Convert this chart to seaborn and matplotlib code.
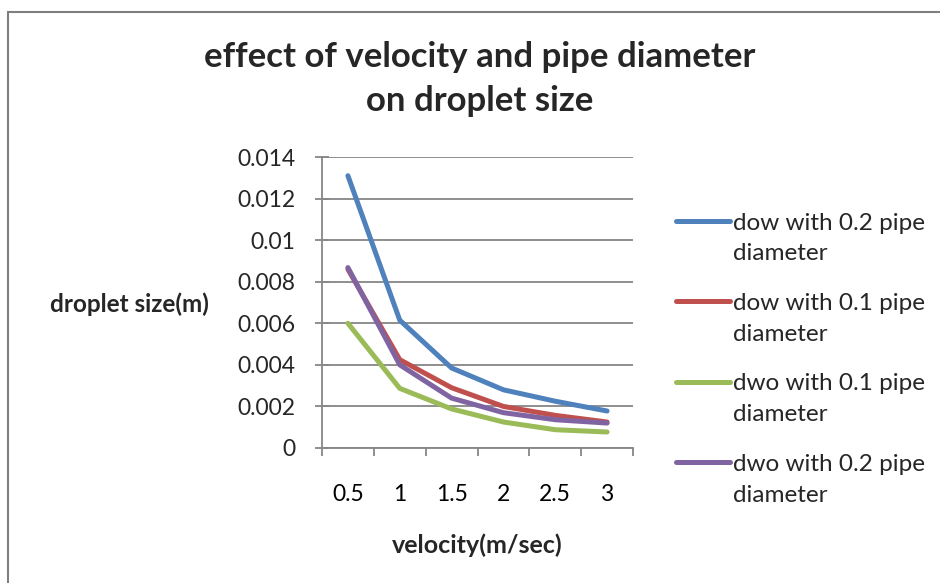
import numpy as np
import pandas as pd
import matplotlib
matplotlib.use("Agg")
import matplotlib.pyplot as plt
import seaborn as sns
from matplotlib.patches import Rectangle
from matplotlib.legend_handler import HandlerLine2D

velocity = ["0.5", "1", "1.5", "2", "2.5", "3"]
dow_02 = [0.0131, 0.00615, 0.00385, 0.0028, 0.00225, 0.00178]
dow_01 = [0.0086, 0.00425, 0.0029, 0.0020, 0.00157, 0.00125]
dwo_01 = [0.0060, 0.00287, 0.00188, 0.00125, 0.00088, 0.00077]
dwo_02 = [0.00868, 0.0040, 0.0024, 0.0017, 0.00136, 0.0012]
series_names = ["dow with 0.2 pipe\ndiameter", "dow with 0.1 pipe\ndiameter",
                "dwo with 0.1 pipe\ndiameter", "dwo with 0.2 pipe\ndiameter"]
colors = ["#4F81BD", "#C0504D", "#9BBB59", "#8064A2"]

rows = []
for name, vals in zip(series_names, [dow_02, dow_01, dwo_01, dwo_02]):
    for i, v in enumerate(vals):
        rows.append({"pos": i, "size": v, "series": name})
df = pd.DataFrame(rows)

sns.set_theme(style="white")
plt.rcParams["font.family"] = ["Lato", "DejaVu Sans"]

LEG_FS = 17.5
LEG_LS = 1.57
HANDLE_SHIFT = 12.8


class TopLine(HandlerLine2D):
    def create_artists(self, legend, orig_handle, xdescent, ydescent, width,
                       height, fontsize, trans):
        arts = super().create_artists(legend, orig_handle, xdescent, ydescent,
                                      width, height, fontsize, trans)
        for a in arts:
            a.set_ydata(np.asarray(a.get_ydata()) + HANDLE_SHIFT)
        return arts


fig = plt.figure(figsize=(9.4, 5.83), dpi=100)
ax = fig.add_axes([322/940, 1-448/583, (633-322)/940, (448-157)/583])

sns.lineplot(data=df, x="pos", y="size", hue="series", palette=colors,
             linewidth=3.6, ax=ax, legend=True, solid_capstyle="round")

grid_c = "#868686"
ax.set_xlim(-0.5, 5.5)
ax.set_ylim(0, 0.014)
yt = np.arange(0, 0.0141, 0.002)
ax.set_yticks(yt)
ax.set_yticklabels(["0", "0.002", "0.004", "0.006", "0.008", "0.01", "0.012", "0.014"])
ax.yaxis.grid(True, color=grid_c, linewidth=1.3)
ax.xaxis.grid(False)
ax.set_xticks(range(6))
ax.set_xticklabels(velocity)
ax.set_xticks(np.arange(-0.5, 5.6, 1), minor=True)
ax.tick_params(axis="x", which="major", length=0, pad=26, labelsize=16.5, colors="black")
ax.tick_params(axis="x", which="minor", length=6, width=1.3, direction="out", color=grid_c, bottom=True)
ax.tick_params(axis="y", which="major", length=10, width=1.3, direction="inout", color=grid_c,
               labelsize=16.5, pad=14, left=True)
for side in ["top", "right"]:
    ax.spines[side].set_visible(False)
for side in ["left", "bottom"]:
    ax.spines[side].set_color(grid_c)
    ax.spines[side].set_linewidth(1.3)

ax.set_xlabel("")
ax.set_ylabel("")
fig.text(477/940, 1-545/583, "velocity(m/sec)", ha="center", va="center",
         fontsize=18, fontweight="bold")
fig.text(129/940, 1-304/583, "droplet size(m)", ha="center", va="center",
         fontsize=17.5, fontweight="bold")
fig.text(480/940, 1-79/583, "effect of velocity and pipe diameter\non droplet size",
         ha="center", va="center", fontsize=25, fontweight="bold", linespacing=1.48)

handles, labels = ax.get_legend_handles_labels()
leg = ax.legend(handles, labels, loc="upper left", bbox_to_anchor=(666/940, 1-203/583),
                bbox_transform=fig.transFigure, frameon=False, fontsize=LEG_FS,
                handlelength=2.25, handletextpad=0.1, labelspacing=1.18, borderaxespad=0,
                handler_map={matplotlib.lines.Line2D: TopLine()})
for line in leg.get_lines():
    line.set_linewidth(3.6)
for t in leg.get_texts():
    t.set_linespacing(LEG_LS)

fig.patches.append(Rectangle((8/940, -0.1), 1.2, 1-12/583+0.1, transform=fig.transFigure,
                             fill=False, edgecolor="#7F7F7F", linewidth=1.5))

fig.savefig("out.png", dpi=100)
